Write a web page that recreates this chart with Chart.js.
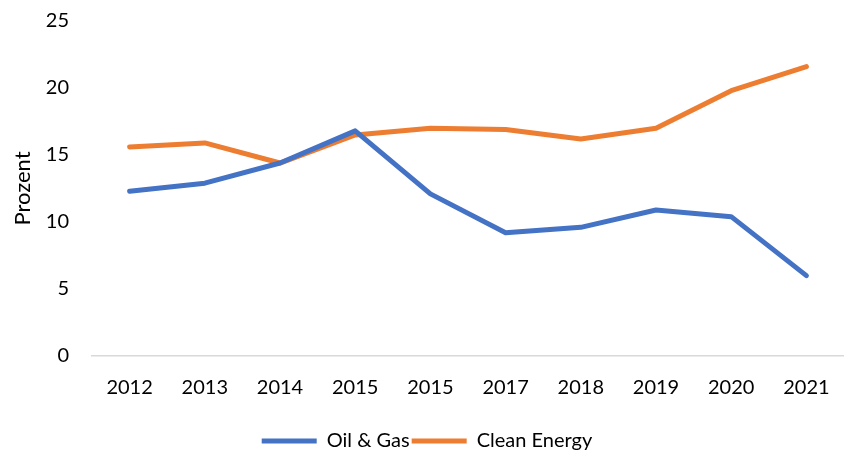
<!DOCTYPE html>
<html>
<head>
<meta charset="utf-8">
<script src="https://cdn.jsdelivr.net/npm/chart.js@4"></script>
<style>
  html, body { margin: 0; padding: 0; background: #fff; }
  #wrap { width: 844px; height: 453px; }
</style>
</head>
<body>
<div id="wrap"><canvas id="myChart"></canvas></div>
<script>
// values
var years = ['2012', '2013', '2014', '2015', '2015', '2017', '2018', '2019', '2020', '2021'];
var oilGas = [12.3, 12.9, 14.4, 16.8, 12.1, 9.2, 9.6, 10.9, 10.4, 6.0];
var cleanEnergy = [15.6, 15.9, 14.4, 16.5, 17.0, 16.9, 16.2, 17.0, 19.8, 21.6];

var tickFont = { family: 'Lato', size: 20 };

var ctx = document.getElementById('myChart');
var myChart = new Chart(ctx, {
    type: 'line',
    data: {
        labels: years,
        datasets: [{
            label: 'Oil & Gas',
            data: oilGas,
            borderColor: '#4472C4',
            backgroundColor: '#4472C4',
            borderWidth: 5,
            borderCapStyle: 'round',
            borderJoinStyle: 'round',
            pointRadius: 0,
            fill: false
        }, {
            label: 'Clean Energy',
            data: cleanEnergy,
            borderColor: '#ED7D31',
            backgroundColor: '#ED7D31',
            borderWidth: 5,
            borderCapStyle: 'round',
            borderJoinStyle: 'round',
            pointRadius: 0,
            fill: false
        }]
    },
    options: {
        responsive: true,
        maintainAspectRatio: false,
        animation: false,
        layout: { padding: { top: 21, right: -10, bottom: -8, left: 0 } },
        plugins: {
            tooltip: { enabled: false },
            legend: {
                position: 'bottom',
                labels: {
                    color: '#000',
                    font: tickFont,
                    usePointStyle: true,
                    pointStyle: 'line',
                    pointStyleWidth: 55,
                    boxHeight: 5,
                    padding: 2
                }
            }
        },
        scales: {
            x: {
                offset: true,
                grid: { display: false, drawTicks: true, tickLength: 20, tickColor: 'rgba(0,0,0,0)', offset: true },
                border: { display: true, color: '#d9d9d9', width: 1.5 },
                ticks: { color: '#000', font: tickFont, padding: 0, maxRotation: 0 },
                afterFit: function(scale) { scale.height = 73; }
            },
            y: {
                min: 0,
                max: 25,
                grid: { display: false, drawTicks: true, tickLength: 23, tickColor: 'rgba(0,0,0,0)' },
                border: { display: false },
                ticks: { stepSize: 5, color: '#000', font: tickFont, padding: 0 },
                title: {
                    display: true,
                    text: 'Prozent',
                    color: '#000',
                    font: { family: 'Lato', size: 22 },
                    padding: { top: 10, bottom: 0 }
                },
                afterFit: function(scale) { scale.width = 92; }
            }
        }
    }
});
</script>
</body>
</html>
